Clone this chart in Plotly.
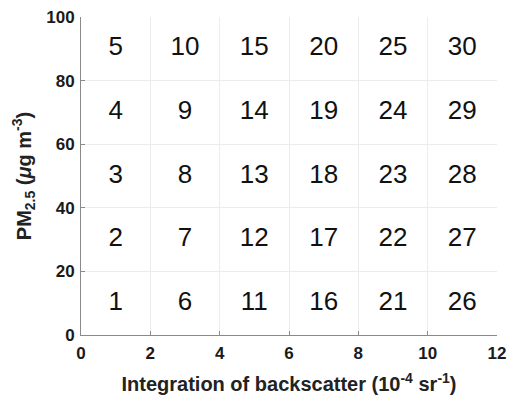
import plotly.graph_objects as go

# Grid cell centres (backscatter integration, PM2.5) and their index labels
col_centres = [1, 3, 5, 7, 9, 11]
row_centres = [10, 30, 50, 70, 90]
x_ticks = [0, 2, 4, 6, 8, 10, 12]
y_ticks = [0, 20, 40, 60, 80, 100]

xs, ys, labels = [], [], []
n = 1
for cx in col_centres:
    for cy in row_centres:
        xs.append(cx)
        ys.append(cy)
        labels.append(str(n))
        n += 1

FONT = "Liberation Sans, Arial, sans-serif"

fig = go.Figure(go.Scatter(
    x=xs, y=ys, mode="text", text=labels,
    textfont=dict(family=FONT, size=26, color="#111111"),
    hoverinfo="skip", showlegend=False,
))

common = dict(
    showgrid=True, gridcolor="#ececec", gridwidth=1,
    showline=True, linecolor="#8a8a8a", linewidth=1,
    ticks="inside", ticklen=4, tickcolor="#8a8a8a", tickwidth=1,
    tickfont=dict(family=FONT, size=17, color="#1a1a1a", weight="bold"),
    zeroline=False, mirror=False, automargin=False,
)

fig.update_xaxes(
    range=[0, 12], tickvals=x_ticks, ticklabelstandoff=3, **common,
    title=dict(text="<b>Integration of backscatter (10<sup>-4</sup> sr<sup>-1</sup>)</b>",
               font=dict(family=FONT, size=20, color="#222222"),
               standoff=14),
)
fig.update_yaxes(
    range=[0, 100], tickvals=y_ticks, ticklabelstandoff=2, **common,
    title=dict(text="<b>PM<sub>2.5</sub> (<i>μ</i>g m<sup>-3</sup>)</b>",
               font=dict(family=FONT, size=20, color="#222222"),
               standoff=9),
)

fig.update_layout(
    width=508, height=396,
    margin=dict(l=81, r=11, t=17, b=61),
    paper_bgcolor="white", plot_bgcolor="white",
)

fig.write_html("out.html")
